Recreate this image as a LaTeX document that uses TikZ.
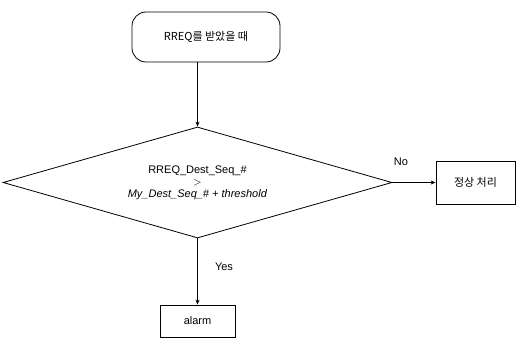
\documentclass[tikz,border=0pt]{standalone}
\usepackage{fontspec}
\setmainfont{Liberation Sans}
\newfontfamily\kr{Noto Sans CJK KR}
\usetikzlibrary{shapes.geometric,arrows.meta}
\begin{document}
\begin{tikzpicture}[x=1pt,y=-1pt,
  every node/.style={font=\fontsize{11}{14}\selectfont},
  box/.style={draw, line width=0.8pt, inner sep=0pt},
  conn/.style={draw, line width=0.7pt, -{Stealth[length=5pt,width=4pt]}},
  lbl/.style={font=\fontsize{11}{14}\selectfont}]
\useasboundingbox (0,0) rectangle (516,339);
\node[box, rounded corners=14pt, minimum width=148pt, minimum height=50pt] (start) at (206,37) {\kr RREQ를 받았을 때};
\node[box, diamond, aspect=3.5, minimum width=389pt, minimum height=111pt, align=center] (dec) at (197.5,182.5)
  {RREQ\_Dest\_Seq\_\#\\[-2pt] $>$\\[-2pt] \textit{My\_Dest\_Seq\_\# + threshold}};
\node[box, minimum width=79pt, minimum height=43pt] (normal) at (475.5,182.5) {\kr 정상 처리};
\node[box, minimum width=75pt, minimum height=32pt] (alarm) at (197.5,321) {alarm};
\draw[conn] (dec.north |- start.south) -- (dec.north);
\draw[conn] (dec.east) -- (normal.west);
\draw[conn] (dec.south) -- (alarm.north);
\node[lbl] (no) at (401,162) {No};
\node[lbl] (yes) at (224,267) {Yes};
\end{tikzpicture}
\end{document}
